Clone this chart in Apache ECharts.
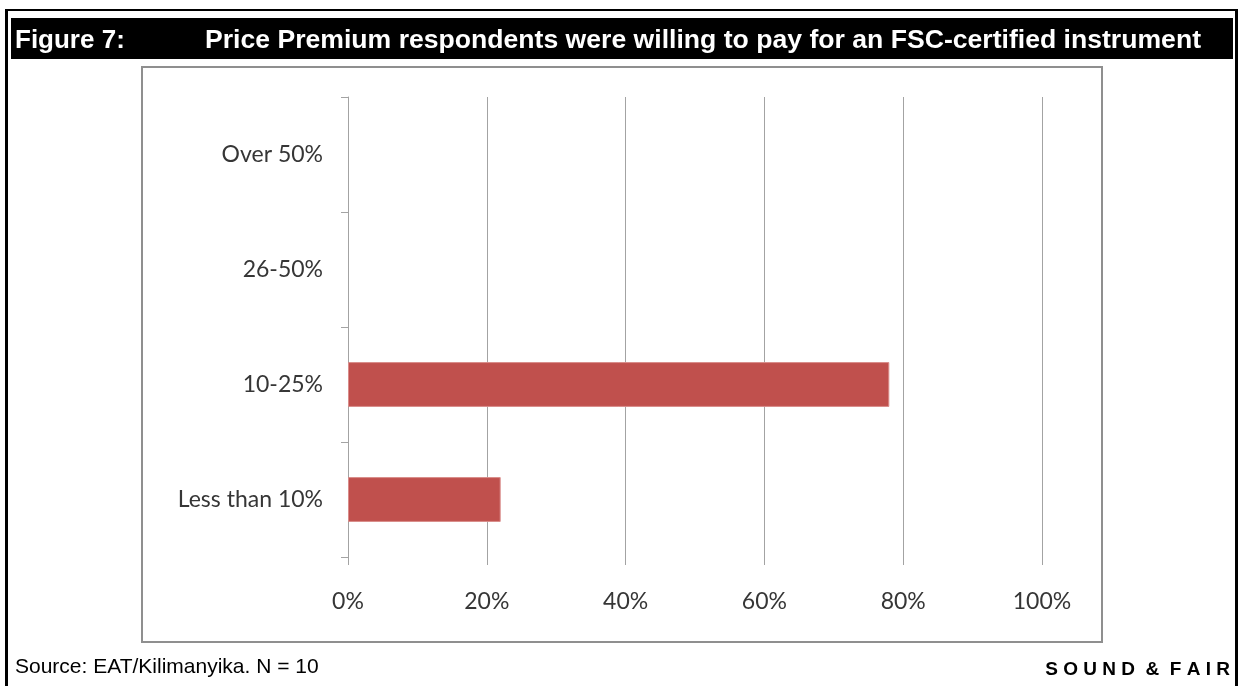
<!DOCTYPE html>
<html>
<head>
<meta charset="utf-8">
<title>Price Premium respondents were willing to pay for an FSC-certified instrument</title>
<script src="https://cdn.jsdelivr.net/npm/echarts@6/dist/echarts.min.js"></script>
<style>
  html, body { margin: 0; padding: 0; background: #ffffff; }
  #chart { width: 1239px; height: 686px; }
</style>
</head>
<body>
<div id="chart"></div>
<script>
// Premium bands, listed bottom to top as the category axis draws them
const categories = ['Less than 10%', '10-25%', '26-50%', 'Over 50%'];
// Share of respondents (%) in each band
const shareValues = [22, 78, 0, 0];
// Value axis ticks (%)
const axisTicks = [0, 20, 40, 60, 80, 100];

const figureLabel = 'Figure 7:';
const figureTitle = 'Price Premium respondents were willing to pay for an FSC-certified instrument';
const sourceNote = 'Source: EAT/Kilimanyika. N = 10';
const brand = 'S O U N D  &  F A I R';

const gridColor = '#a3a3a3';
const labelColor = '#363636';
const labelFont = 'Lato, "Open Sans", sans-serif';
const arial = '"Liberation Sans", Arial, sans-serif';

const chart = echarts.init(document.getElementById('chart'), null, { renderer: 'canvas' });

// empty bands get no outline so nothing shows at zero
const barData = shareValues.map(v => ({
  value: v,
  itemStyle: { borderWidth: v > 0 ? 1 : 0 }
}));

chart.setOption({
  backgroundColor: '#ffffff',
  animation: false,
  grid: { left: 348, right: 197, top: 97, bottom: 129, containLabel: false },
  xAxis: {
    type: 'value',
    min: axisTicks[0],
    max: axisTicks[axisTicks.length - 1],
    interval: axisTicks[1] - axisTicks[0],
    axisLine: { show: false },
    axisTick: { show: true, length: 8, lineStyle: { color: gridColor, width: 1 } },
    splitLine: { show: true, lineStyle: { color: gridColor, width: 1 } },
    axisLabel: {
      formatter: '{value}%',
      color: labelColor,
      fontFamily: labelFont,
      fontSize: 23,
      margin: 33
    }
  },
  yAxis: {
    type: 'category',
    data: categories,
    axisLine: { show: true, lineStyle: { color: gridColor, width: 1 } },
    axisTick: { show: true, length: 7, lineStyle: { color: gridColor, width: 1 } },
    axisLabel: {
      color: labelColor,
      fontFamily: labelFont,
      fontSize: 23,
      margin: 25
    }
  },
  series: [{
    type: 'bar',
    data: barData,
    barWidth: '39%',
    itemStyle: { color: '#c0504d', borderColor: '#d98c8a', borderWidth: 1 }
  }],
  graphic: [
    // outer frame lines (top, left, right)
    { type: 'line', z: 20, shape: { x1: 5, y1: 10, x2: 1238, y2: 10 }, style: { stroke: '#000', lineWidth: 2 } },
    { type: 'line', z: 20, shape: { x1: 6.5, y1: 9, x2: 6.5, y2: 686 }, style: { stroke: '#000', lineWidth: 3 } },
    { type: 'line', z: 20, shape: { x1: 1236.5, y1: 9, x2: 1236.5, y2: 686 }, style: { stroke: '#000', lineWidth: 3 } },
    // title band
    { type: 'rect', z: 20, shape: { x: 11, y: 18, width: 1222, height: 41 }, style: { fill: '#000' } },
    { type: 'text', z: 21, x: 15, y: 41,
      style: { text: figureLabel, fill: '#fff', font: 'bold 26px ' + arial, textVerticalAlign: 'middle' } },
    { type: 'text', z: 21, x: 205, y: 41,
      style: { text: figureTitle, fill: '#fff', font: 'bold 26.6px ' + arial, textVerticalAlign: 'middle' } },
    // chart frame
    { type: 'rect', z: -1, shape: { x: 142, y: 67, width: 960, height: 575 },
      style: { fill: 'none', stroke: '#8f8f8f', lineWidth: 2 } },
    // footer
    { type: 'text', z: 20, x: 15, y: 667,
      style: { text: sourceNote, fill: '#000', font: '21px ' + arial, textVerticalAlign: 'middle' } },
    { type: 'text', z: 20, x: 1230, y: 670,
      style: { text: brand, fill: '#000', font: 'bold 19px ' + arial, textAlign: 'right', textVerticalAlign: 'middle' } }
  ]
});
</script>
</body>
</html>
